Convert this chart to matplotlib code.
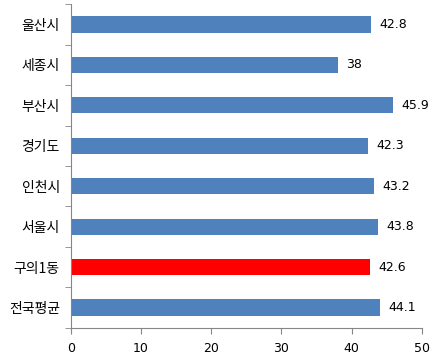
import numpy as np
import matplotlib.pyplot as plt

plt.rcParams['font.family'] = ['Noto Sans CJK KR', 'DejaVu Sans']

# 위에서 아래 순서
regions = ['울산시', '세종시', '부산시', '경기도', '인천시', '서울시', '구의1동', '전국평균']
values = [42.8, 38, 45.9, 42.3, 43.2, 43.8, 42.6, 44.1]
highlight = '구의1동'
xticks = [0, 10, 20, 30, 40, 50]

axis_color = '#868686'

fig = plt.figure(figsize=(4.43, 3.64), dpi=100)
ax = fig.add_axes([0.160, 0.0997, 0.792, 0.8883])

n = len(regions)
ypos = np.arange(n)
colors = ['#FF0000' if r == highlight else '#4F81BD' for r in regions]
ax.barh(ypos, values, height=0.4, color=colors)

for y, v in zip(ypos, values):
    ax.annotate(f'{v:g}', (v, y), xytext=(6, 0), textcoords='offset points',
                va='center', ha='left', fontsize=9, family=['DejaVu Sans'])

ax.set_xlim(0, 50)
ax.set_ylim(n - 0.5, -0.5)
ax.set_xticks(xticks)
ax.set_xticklabels([str(t) for t in xticks], fontsize=9, family=['DejaVu Sans'])
ax.set_yticks(ypos)
ax.set_yticklabels(regions, fontsize=10)
ax.set_yticks(np.arange(n + 1) - 0.5, minor=True)

ax.tick_params(axis='y', which='major', length=0, pad=8)
ax.tick_params(axis='y', which='minor', length=4, color=axis_color, direction='out')
ax.tick_params(axis='x', length=4, color=axis_color, direction='out', pad=6)

for side in ['top', 'right']:
    ax.spines[side].set_visible(False)
for side in ['left', 'bottom']:
    ax.spines[side].set_color(axis_color)

fig.savefig('out.png', dpi=100)
